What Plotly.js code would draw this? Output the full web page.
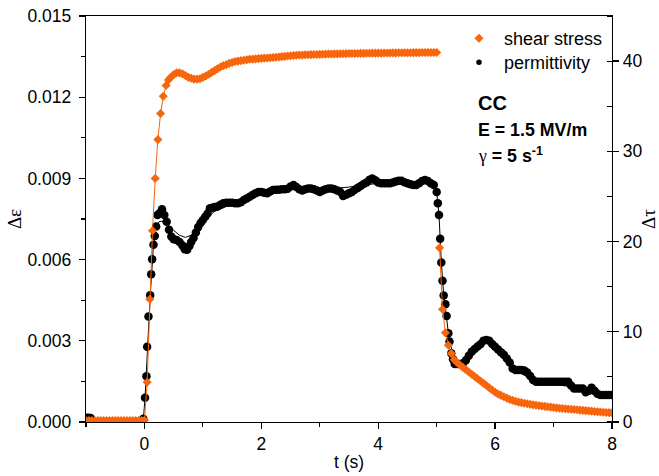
<!DOCTYPE html>
<html>
<head>
<meta charset="utf-8">
<script src="https://cdn.plot.ly/plotly-3.0.1.min.js"></script>
<style>html,body{margin:0;padding:0;background:#fff}#chart{width:659px;height:476px}</style>
</head>
<body>
<div id="chart"></div>
<script>
// ---- shear stress (right axis, Δτ) ----
var stressT = [-1.0,-0.95,-0.9,-0.85,-0.8,-0.75,-0.7,-0.65,-0.6,-0.55,-0.5,-0.45,-0.4,-0.35,-0.3,-0.25,-0.2,-0.15,-0.1,-0.05,0.0,
  0.046,0.092,0.138,0.184,0.23,0.276,0.322,0.37,0.41,0.45,0.5,0.55,0.6,0.65,0.7,0.75,0.8,0.85,0.9,0.95,
  1.0,1.05,1.1,1.15,1.2,1.25,1.3,1.35,1.4,1.45,1.5,1.55,1.6,1.65,1.7,1.75,1.8,1.85,1.9,1.95,
  2.0,2.05,2.1,2.15,2.2,2.25,2.3,2.35,2.4,2.45,2.5,2.55,2.6,2.65,2.7,2.75,2.8,2.85,2.9,2.95,
  3.0,3.05,3.1,3.15,3.2,3.25,3.3,3.35,3.4,3.45,3.5,3.55,3.6,3.65,3.7,3.75,3.8,3.85,3.9,3.95,
  4.0,4.05,4.1,4.15,4.2,4.25,4.3,4.35,4.4,4.45,4.5,4.55,4.6,4.65,4.7,4.75,4.8,4.85,4.9,4.95,5.0,5.025,
  5.05,5.1,5.15,5.2,5.25,5.3,5.35,5.4,5.45,5.5,5.55,5.6,5.65,5.7,5.75,5.8,5.85,5.9,5.95,
  6.0,6.05,6.1,6.15,6.2,6.25,6.3,6.35,6.4,6.45,6.5,6.55,6.6,6.65,6.7,6.75,6.8,6.85,6.9,6.95,
  7.0,7.05,7.1,7.15,7.2,7.25,7.3,7.35,7.4,7.45,7.5,7.55,7.6,7.65,7.7,7.75,7.8,7.85,7.9,7.95,8.0];
var stressTau = [0.15,0.15,0.15,0.15,0.15,0.15,0.15,0.15,0.15,0.15,0.15,0.15,0.15,0.15,0.15,0.15,0.15,0.15,0.15,0.15,0.2,
  4.4,13.6,21.2,27.0,31.3,34.2,36.1,37.3,37.9,38.2,38.5,38.7,38.7,38.6,38.4,38.2,38.1,38.0,38.0,38.05,
  38.2,38.35,38.55,38.75,38.95,39.15,39.35,39.5,39.6,39.75,39.85,39.95,40.0,40.05,40.1,40.15,40.2,40.22,40.25,40.28,
  40.3,40.33,40.35,40.38,40.4,40.43,40.46,40.5,40.53,40.56,40.6,40.62,40.65,40.67,40.68,40.7,40.71,40.72,40.73,40.74,
  40.75,40.76,40.77,40.78,40.79,40.8,40.8,40.81,40.82,40.83,40.84,40.84,40.85,40.85,40.86,40.86,40.87,40.87,40.88,40.88,
  40.89,40.89,40.9,40.9,40.9,40.91,40.91,40.92,40.92,40.93,40.93,40.93,40.94,40.94,40.94,40.95,40.95,40.95,40.95,40.95,40.95,null,
  19.3,12.5,9.9,8.5,7.6,6.9,6.6,6.3,6.05,5.8,5.55,5.3,5.05,4.8,4.55,4.3,4.05,3.8,3.55,
  3.3,3.1,2.95,2.8,2.65,2.5,2.4,2.3,2.2,2.15,2.08,2.02,1.96,1.9,1.85,1.81,1.77,1.73,1.69,1.65,
  1.61,1.57,1.53,1.5,1.47,1.44,1.41,1.38,1.35,1.32,1.29,1.26,1.23,1.2,1.17,1.14,1.11,1.08,1.06,1.04,1.02];

// ---- permittivity (left axis, Δε) ----
var permT = [-1.0,-0.96,-0.92,-0.02,0.01,0.034,0.046,0.069,0.098,0.115,0.132,0.155,0.177,0.2,0.223,0.26,0.3,0.34,0.38,0.42,0.46,
  0.5,0.55,0.6,0.65,0.69,0.73,0.77,0.8,0.84,0.88,0.92,0.96,1.0,1.04,1.08,1.12,1.16,1.2,1.25,1.3,1.35,1.4,1.45,1.5,1.55,1.6,1.65,
  1.7,1.75,1.8,1.85,1.9,1.95,2.0,2.05,2.1,2.15,2.2,2.25,2.3,2.35,2.4,2.45,2.5,2.55,2.6,2.65,2.7,2.75,2.8,2.85,2.9,2.95,
  3.0,3.05,3.1,3.15,3.2,3.25,3.3,3.35,3.4,3.45,3.5,3.55,3.6,3.65,3.7,3.75,3.8,3.85,3.9,3.95,
  4.0,4.05,4.1,4.15,4.2,4.25,4.3,4.35,4.4,4.45,4.5,4.55,4.6,4.65,4.7,4.75,4.8,4.85,4.9,4.95,
  5.0,5.02,5.04,5.06,5.08,5.1,5.12,5.15,5.17,5.2,5.22,5.25,5.28,5.31,5.35,5.4,5.45,5.5,5.55,5.6,5.65,5.7,5.75,5.8,5.85,5.9,5.95,
  6.0,6.05,6.1,6.15,6.2,6.25,6.3,6.35,6.4,6.45,6.5,6.55,6.6,6.65,6.7,6.75,6.8,6.85,6.9,6.95,7.0,7.05,7.1,7.15,7.2,7.25,
  7.3,7.35,7.4,7.45,7.5,7.55,7.6,7.65,7.7,7.75,7.8,7.85,7.9,7.95,8.0];
var permEps = [0.00016,0.00016,0.00015,0.00012,0.0009,0.00169,0.00278,0.0039,0.00468,0.00546,0.00601,0.00655,0.00687,0.00722,0.00765,0.00771,0.00786,0.00765,0.0074,0.0071,0.00685,
  0.00675,0.00672,0.00665,0.00652,0.00638,0.00636,0.0065,0.00665,0.0068,0.007,0.0072,0.00735,0.00746,0.00758,0.0077,0.0079,0.00792,0.00794,0.00796,0.00803,0.00808,0.0081,0.0081,0.0081,0.00808,0.00808,0.00812,
  0.0082,0.00826,0.00832,0.00839,0.00845,0.0085,0.0085,0.00847,0.00845,0.00852,0.00857,0.00858,0.00858,0.0086,0.0086,0.00862,0.0087,0.00876,0.00868,0.0086,0.00855,0.0086,0.00863,0.00863,0.0086,0.00855,
  0.0085,0.00855,0.0086,0.00863,0.00863,0.0086,0.00855,0.0085,0.00835,0.0084,0.00845,0.0085,0.00858,0.00865,0.00872,0.00879,0.00885,0.00895,0.009,0.00893,
  0.00885,0.00882,0.00882,0.00882,0.00882,0.00885,0.00889,0.00891,0.00891,0.00886,0.00882,0.00878,0.00876,0.00876,0.00882,0.0089,0.00894,0.0089,0.00882,0.00876,
  0.0085,0.00808,0.00765,0.00677,0.00589,0.00522,0.00467,0.00435,0.00392,0.00328,0.00297,0.00254,0.00232,0.00214,0.00214,0.00214,0.00217,0.00228,0.00245,0.0026,0.0027,0.00279,0.00287,0.003,0.00303,0.003,0.00288,
  0.00278,0.00268,0.00258,0.00248,0.00235,0.0022,0.00198,0.00192,0.00192,0.00192,0.0019,0.00183,0.0017,0.00155,0.00149,0.00149,0.00149,0.00149,0.00149,0.00149,0.00149,0.00149,0.00149,0.00149,0.00149,0.00149,
  0.00135,0.00124,0.00124,0.00124,0.00124,0.0011,0.00115,0.00127,0.00115,0.00104,0.001,0.001,0.001,0.001,0.001];

// ---- smoothed permittivity guide line ----
var smoothT = [-1.0,-0.02,0.01,0.05,0.1,0.15,0.2,0.25,0.3,0.4,0.5,0.6,0.7,0.8,0.9,1.0,1.1,1.2,1.3,1.5,1.75,2.0,2.5,3.0,3.5,4.0,4.5,4.95,
  5.0,5.04,5.08,5.12,5.2,5.3,5.45,5.6,5.85,6.1,6.35,6.7,7.3,7.8,8.0];
var smoothEps = [0.00005,0.00005,0.0009,0.0028,0.0047,0.0064,0.0072,0.0074,0.00742,0.0073,0.00708,0.0069,0.00682,0.0069,0.0071,0.00735,0.0076,0.00778,0.00788,0.00805,0.0082,0.0084,0.0086,0.00858,0.00868,0.00882,0.00885,0.0088,
  0.0085,0.00765,0.0059,0.0047,0.0033,0.0022,0.0021,0.0025,0.003,0.0026,0.0019,0.0015,0.0013,0.001,0.001];

var legendNames = ['shear stress', 'permittivity'];
var yTickVals = [0, 0.003, 0.006, 0.009, 0.012, 0.015];
var yTickText = ['0.000', '0.003', '0.006', '0.009', '0.012', '0.015'];

var ORANGE = '#F7650C';
var FONT = 'Liberation Sans, Arial, sans-serif';
var SERIF = 'Liberation Serif, Times New Roman, serif';

var traces = [
  {x: smoothT, y: smoothEps, type: 'scatter', mode: 'lines', line: {color: '#000', width: 1}, showlegend: false, hoverinfo: 'skip', xaxis: 'x', yaxis: 'y'},
  {x: permT, y: permEps, type: 'scatter', mode: 'markers', marker: {color: '#000', size: 8.5, symbol: 'circle'}, showlegend: false, xaxis: 'x', yaxis: 'y'},
  {x: stressT, y: stressTau, type: 'scatter', mode: 'lines+markers', connectgaps: false, line: {color: ORANGE, width: 1}, marker: {color: ORANGE, size: 7, symbol: 'diamond'}, showlegend: false, xaxis: 'x', yaxis: 'y2'},
  {x: [null], y: [null], type: 'scatter', mode: 'markers', name: legendNames[0], legend: 'legend', marker: {color: ORANGE, size: 7, symbol: 'diamond'}, xaxis: 'x', yaxis: 'y2'},
  {x: [null], y: [null], type: 'scatter', mode: 'markers', name: legendNames[1], legend: 'legend2', marker: {color: '#000', size: 5.5, symbol: 'circle'}, xaxis: 'x', yaxis: 'y2'}
];

var legendCommon = {xanchor: 'left', yanchor: 'top', bgcolor: 'rgba(0,0,0,0)', font: {family: FONT, size: 18, color: '#000'}, itemwidth: 40};

var layout = {
  width: 659, height: 476,
  margin: {l: 86, r: 47, t: 16, b: 54, pad: 0},
  paper_bgcolor: '#fff', plot_bgcolor: '#fff',
  font: {family: FONT, size: 17.5, color: '#000'},
  showlegend: true,
  legend: Object.assign({x: 0.6996, y: 0.99}, legendCommon),
  legend2: Object.assign({x: 0.6996, y: 0.931}, legendCommon),
  xaxis: {
    range: [-1, 8], dtick: 2, tick0: 0, showgrid: false, zeroline: false,
    showline: true, linecolor: '#000', linewidth: 1.3, mirror: true,
    ticks: 'outside', ticklen: 6, tickwidth: 1.3, tickcolor: '#000',
    minor: {dtick: 1, ticks: 'outside', ticklen: 4, tickwidth: 1.2, tickcolor: '#000', showgrid: false},
    tickfont: {family: FONT, size: 17.5, color: '#000'},
    title: {text: 't (s)', font: {family: FONT, size: 17.5, color: '#000'}, standoff: 2}
  },
  yaxis: {
    range: [0, 0.015], tickvals: yTickVals, ticktext: yTickText, showgrid: false, zeroline: false,
    showline: true, linecolor: '#000', linewidth: 1.3,
    ticks: 'outside', ticklen: 6, tickwidth: 1.3, tickcolor: '#000', ticklabelstandoff: 4,
    minor: {dtick: 0.0015, tick0: 0, ticks: 'outside', ticklen: 4, tickwidth: 1.2, tickcolor: '#000', showgrid: false},
    tickfont: {family: FONT, size: 17.5, color: '#000'},
    title: {text: 'Δε', font: {family: SERIF, size: 19, color: '#000'}, standoff: 0}
  },
  yaxis2: {
    range: [0, 45], dtick: 10, tick0: 0, overlaying: 'y', side: 'right', showgrid: false, zeroline: false,
    showline: true, linecolor: '#000', linewidth: 1.3,
    ticks: 'outside', ticklen: 6, tickwidth: 1.3, tickcolor: '#000',
    minor: {dtick: 5, tick0: 0, ticks: 'inside', ticklen: 5, tickwidth: 1.2, tickcolor: '#000', showgrid: false},
    tickfont: {family: FONT, size: 17.5, color: '#000'},
    title: {text: 'Δτ', font: {family: SERIF, size: 19, color: '#000'}, standoff: 4}
  },
  annotations: [
    {xref: 'paper', yref: 'paper', x: 0.741, y: 0.786, xanchor: 'left', yanchor: 'middle', showarrow: false, text: '<b>CC</b>', font: {family: FONT, size: 20, color: '#000'}},
    {xref: 'paper', yref: 'paper', x: 0.741, y: 0.719, xanchor: 'left', yanchor: 'middle', showarrow: false, text: '<b>E = 1.5 MV/m</b>', font: {family: FONT, size: 17.8, color: '#000'}},
    {xref: 'paper', yref: 'paper', x: 0.741, y: 0.657, xanchor: 'left', yanchor: 'middle', showarrow: false, text: '<span style="font-family:Liberation Serif">γ</span><b> = 5 s<sup>-1</sup></b>', font: {family: FONT, size: 17.8, color: '#000'}}
  ]
};

Plotly.newPlot('chart', traces, layout, {displayModeBar: false, staticPlot: true});
</script>
</body>
</html>
